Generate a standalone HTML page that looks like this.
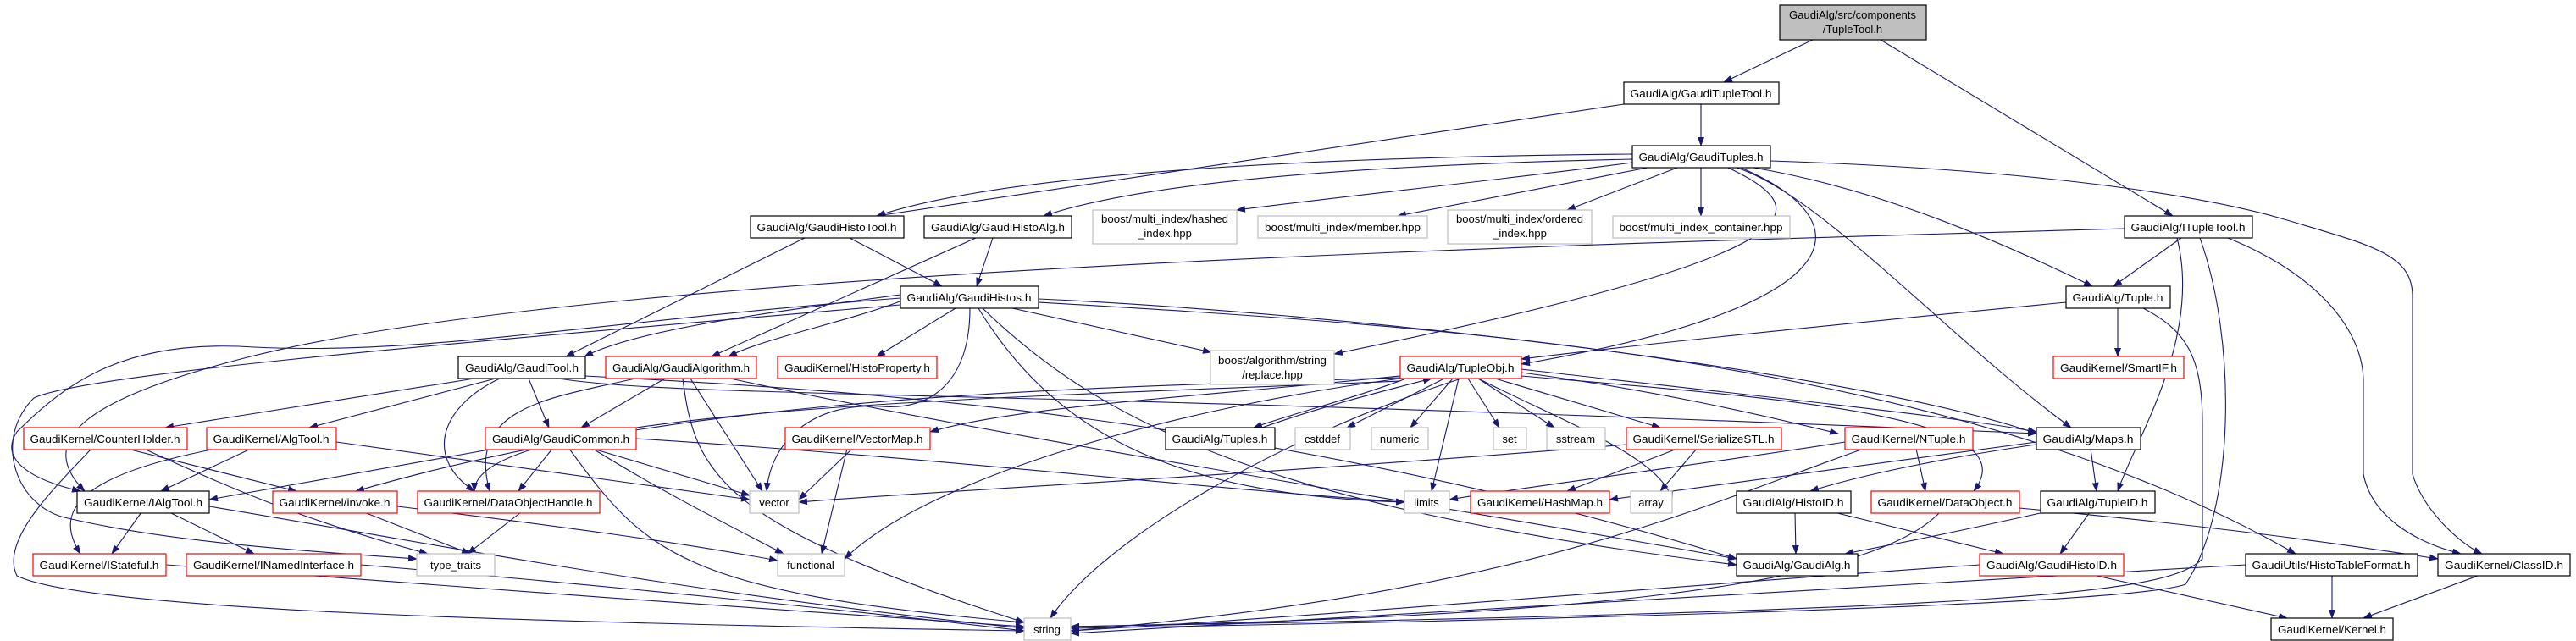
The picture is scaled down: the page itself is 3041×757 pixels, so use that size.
<!DOCTYPE html>
<html><head><meta charset="utf-8"><style>
html,body{margin:0;padding:0;background:#fff}
svg{display:block}
text{font-family:"Liberation Sans",sans-serif;font-size:13px;fill:#000}
.b{fill:#fff;stroke:#000;stroke-width:1.2}
.r{fill:#fff;stroke:#f00;stroke-width:1.2}
.g{fill:#fff;stroke:#bfbfbf;stroke-width:1.2}
.e path{fill:none;stroke:#191970;stroke-width:1.1;marker-end:url(#a)}
</style></head><body>
<svg width="3041" height="757" viewBox="0 0 3041 757" xmlns="http://www.w3.org/2000/svg">
<defs><marker id="a" markerWidth="11" markerHeight="8" refX="10" refY="4" orient="auto" markerUnits="userSpaceOnUse"><path d="M0,0 L11,4 L0,8z" fill="#191970" stroke="none"/></marker></defs>
<g class="e">
<path d="M2140,47 L2035,97"/>
<path d="M2220,47 L2565,255"/>
<path d="M1917,123 L1035,255"/>
<path d="M2008,123 L2008,172"/>
<path d="M1927,182 C1600,185 1200,200 1035,255"/>
<path d="M1927,188 C1600,195 1350,215 1232,255"/>
<path d="M1927,192 C1750,215 1600,230 1460,248"/>
<path d="M1945,198 L1650,255"/>
<path d="M1980,198 L1850,248"/>
<path d="M2008,198 L2008,255"/>
<path d="M2070,198 C2200,220 2330,270 2470,338"/>
<path d="M2050,198 C2150,230 2300,400 2445,505"/>
<path d="M2055,198 C2200,260 2200,360 1796,430"/>
<path d="M2040,198 C2150,250 2150,300 1575,418"/>
<path d="M2090,190 C2400,200 2600,230 2700,260 C2800,290 2848,300 2848,350 L2848,560 C2860,600 2900,640 2930,654"/>
<path d="M950,281 L668,421"/>
<path d="M1003,281 L1112,338"/>
<path d="M1172,281 L1153,338"/>
<path d="M1152,281 L840,421"/>
<path d="M2508,270 C1800,290 700,320 300,420 C100,470 40,520 100,580"/>
<path d="M2575,281 L2495,338"/>
<path d="M2570,281 C2600,400 2520,520 2500,580"/>
<path d="M2597,281 C2640,400 2640,600 2580,690 C2500,720 1500,738 1264,742"/>
<path d="M2630,281 C2750,330 2790,400 2790,450 L2790,560 C2800,610 2850,640 2905,654"/>
<path d="M1063,348 C900,370 750,390 690,421"/>
<path d="M1065,355 C1000,380 900,400 860,421"/>
<path d="M1128,364 L1035,421"/>
<path d="M1195,364 L1430,416"/>
<path d="M1226,353 C1600,370 2200,440 2404,512"/>
<path d="M1226,357 C1700,385 2300,420 2710,654"/>
<path d="M1155,364 C1250,520 1400,585 1658,593"/>
<path d="M1145,364 C1145,450 1100,485 1040,480 C960,475 910,520 905,580"/>
<path d="M1063,360 C600,400 100,440 40,470 C-10,520 20,600 80,612 C200,640 350,650 492,660"/>
<path d="M1063,352 C700,380 500,420 300,410 C150,400 80,450 20,510 C0,540 30,565 95,580"/>
<path d="M1160,364 C1300,500 1500,600 2050,667"/>
<path d="M2439,357 C2200,380 1950,405 1796,424"/>
<path d="M2500,364 L2500,421"/>
<path d="M2530,364 C2580,390 2600,420 2600,500 L2600,660 C2560,700 2400,720 1264,740"/>
<path d="M560,447 L195,505"/>
<path d="M585,447 L365,505"/>
<path d="M624,447 L648,505"/>
<path d="M590,447 C520,480 500,540 560,580"/>
<path d="M660,447 C800,470 1200,460 2404,512"/>
<path d="M691,444 C1000,460 1500,490 2050,660"/>
<path d="M785,447 L686,505"/>
<path d="M750,447 C650,470 550,480 578,580"/>
<path d="M815,447 L900,580"/>
<path d="M806,447 C820,560 850,620 1209,735"/>
<path d="M862,447 C1200,520 1600,580 2050,660"/>
<path d="M150,530 L350,580"/>
<path d="M170,530 C300,590 380,620 505,654"/>
<path d="M108,530 C60,580 0,640 20,680 C100,720 600,735 1209,745"/>
<path d="M296,530 L190,580"/>
<path d="M255,530 C100,560 60,600 95,654"/>
<path d="M397,522 L885,590"/>
<path d="M583,530 L247,590"/>
<path d="M652,530 L612,580"/>
<path d="M700,530 L885,585"/>
<path d="M700,530 C780,580 860,620 925,654"/>
<path d="M672,530 C760,650 800,700 1209,735"/>
<path d="M751,518 C1100,540 1400,575 1658,593"/>
<path d="M1006,530 L943,590"/>
<path d="M1000,530 L970,654"/>
<path d="M1660,447 C1600,470 1520,490 1480,505"/>
<path d="M1490,505 C1560,480 1640,460 1690,447"/>
<path d="M1705,447 L1590,505"/>
<path d="M1715,447 L1665,505"/>
<path d="M1733,447 L1770,505"/>
<path d="M1745,447 L1835,505"/>
<path d="M1765,447 L1960,505"/>
<path d="M1796,440 C1950,460 2080,490 2170,512"/>
<path d="M1796,436 C2000,460 2300,490 2404,510"/>
<path d="M1722,447 L1690,580"/>
<path d="M1725,447 C1500,520 1300,640 1240,730"/>
<path d="M1653,447 C1400,480 1100,560 997,660"/>
<path d="M1653,444 C1400,470 1200,480 1098,510"/>
<path d="M1653,446 C1200,460 800,470 420,580"/>
<path d="M1796,444 C2100,470 2400,490 2330,580"/>
<path d="M1745,447 C1850,500 1960,540 1974,590"/>
<path d="M1653,450 C1200,470 560,480 560,580"/>
<path d="M1920,525 C1500,560 1100,580 943,593"/>
<path d="M1980,530 L1850,580"/>
<path d="M2003,530 L1960,580"/>
<path d="M2262,530 L2273,580"/>
<path d="M2178,522 C2000,550 1800,575 1711,590"/>
<path d="M2200,530 C2000,600 1800,700 1264,745"/>
<path d="M2410,524 C2300,540 2200,560 2137,580"/>
<path d="M2468,530 L2475,580"/>
<path d="M2404,522 C2200,550 2000,575 1900,590"/>
<path d="M167,605 L132,654"/>
<path d="M200,605 L300,654"/>
<path d="M247,598 C500,640 800,700 1209,742"/>
<path d="M430,605 L555,654"/>
<path d="M469,598 C650,620 800,640 918,662"/>
<path d="M615,605 L552,654"/>
<path d="M2119,605 L2120,654"/>
<path d="M2165,605 L2365,654"/>
<path d="M2384,600 C2600,620 2750,640 2878,660"/>
<path d="M2290,605 C2200,700 1800,730 1264,740"/>
<path d="M2413,605 C2300,630 2250,640 2178,654"/>
<path d="M2467,605 L2432,654"/>
<path d="M2475,680 L2700,730"/>
<path d="M2337,667 C2000,690 1600,725 1264,745"/>
<path d="M2753,680 L2753,730"/>
<path d="M2651,667 C2300,690 1800,720 1264,748"/>
<path d="M2925,680 L2790,730"/>
<path d="M196,667 C500,690 900,720 1209,740"/>
<path d="M426,667 C700,690 1000,720 1209,745"/>
</g>
<g>
<rect x="2101" y="6" width="173" height="41" fill="#bfbfbf" stroke="#000" stroke-width="1.2"/>
<text x="2187" y="22" text-anchor="middle" textLength="150" lengthAdjust="spacingAndGlyphs">GaudiAlg/src/components</text>
<text x="2187" y="39" text-anchor="middle">/TupleTool.h</text>

<rect class="b" x="1917" y="97" width="183" height="26"/><text x="2008" y="115" text-anchor="middle" textLength="167" lengthAdjust="spacingAndGlyphs">GaudiAlg/GaudiTupleTool.h</text>
<rect class="b" x="1927" y="172" width="163" height="26"/><text x="2008" y="190" text-anchor="middle" textLength="147" lengthAdjust="spacingAndGlyphs">GaudiAlg/GaudiTuples.h</text>

<rect class="b" x="886" y="255" width="181" height="26"/><text x="976" y="273" text-anchor="middle" textLength="165" lengthAdjust="spacingAndGlyphs">GaudiAlg/GaudiHistoTool.h</text>
<rect class="b" x="1091" y="255" width="174" height="26"/><text x="1178" y="273" text-anchor="middle" textLength="158" lengthAdjust="spacingAndGlyphs">GaudiAlg/GaudiHistoAlg.h</text>
<rect class="g" x="1290" y="248" width="170" height="40"/><text x="1375" y="263" text-anchor="middle" textLength="150" lengthAdjust="spacingAndGlyphs">boost/multi_index/hashed</text><text x="1375" y="280" text-anchor="middle">_index.hpp</text>
<rect class="g" x="1485" y="255" width="200" height="26"/><text x="1585" y="273" text-anchor="middle" textLength="184" lengthAdjust="spacingAndGlyphs">boost/multi_index/member.hpp</text>
<rect class="g" x="1709" y="248" width="170" height="40"/><text x="1794" y="263" text-anchor="middle" textLength="150" lengthAdjust="spacingAndGlyphs">boost/multi_index/ordered</text><text x="1794" y="280" text-anchor="middle">_index.hpp</text>
<rect class="g" x="1904" y="255" width="209" height="26"/><text x="2008" y="273" text-anchor="middle" textLength="193" lengthAdjust="spacingAndGlyphs">boost/multi_index_container.hpp</text>
<rect class="b" x="2508" y="255" width="151" height="26"/><text x="2583" y="273" text-anchor="middle" textLength="135" lengthAdjust="spacingAndGlyphs">GaudiAlg/ITupleTool.h</text>

<rect class="b" x="1063" y="338" width="163" height="26"/><text x="1144" y="356" text-anchor="middle" textLength="147" lengthAdjust="spacingAndGlyphs">GaudiAlg/GaudiHistos.h</text>
<rect class="b" x="2439" y="338" width="123" height="26"/><text x="2500" y="356" text-anchor="middle" textLength="107" lengthAdjust="spacingAndGlyphs">GaudiAlg/Tuple.h</text>

<rect class="b" x="541" y="421" width="150" height="26"/><text x="616" y="439" text-anchor="middle" textLength="134" lengthAdjust="spacingAndGlyphs">GaudiAlg/GaudiTool.h</text>
<rect class="r" x="715" y="421" width="178" height="26"/><text x="804" y="439" text-anchor="middle" textLength="162" lengthAdjust="spacingAndGlyphs">GaudiAlg/GaudiAlgorithm.h</text>
<rect class="r" x="918" y="421" width="188" height="26"/><text x="1012" y="439" text-anchor="middle" textLength="172" lengthAdjust="spacingAndGlyphs">GaudiKernel/HistoProperty.h</text>
<rect class="g" x="1429" y="414" width="146" height="40"/><text x="1502" y="430" text-anchor="middle" textLength="128" lengthAdjust="spacingAndGlyphs">boost/algorithm/string</text><text x="1502" y="447" text-anchor="middle">/replace.hpp</text>
<rect class="r" x="1653" y="421" width="143" height="26"/><text x="1724" y="439" text-anchor="middle" textLength="127" lengthAdjust="spacingAndGlyphs">GaudiAlg/TupleObj.h</text>
<rect class="r" x="2424" y="421" width="154" height="26"/><text x="2501" y="439" text-anchor="middle" textLength="138" lengthAdjust="spacingAndGlyphs">GaudiKernel/SmartIF.h</text>

<rect class="r" x="28" y="505" width="193" height="26"/><text x="124" y="523" text-anchor="middle" textLength="177" lengthAdjust="spacingAndGlyphs">GaudiKernel/CounterHolder.h</text>
<rect class="r" x="244" y="505" width="153" height="26"/><text x="320" y="523" text-anchor="middle" textLength="137" lengthAdjust="spacingAndGlyphs">GaudiKernel/AlgTool.h</text>
<rect class="r" x="573" y="505" width="178" height="26"/><text x="662" y="523" text-anchor="middle" textLength="162" lengthAdjust="spacingAndGlyphs">GaudiAlg/GaudiCommon.h</text>
<rect class="r" x="927" y="505" width="171" height="26"/><text x="1012" y="523" text-anchor="middle" textLength="155" lengthAdjust="spacingAndGlyphs">GaudiKernel/VectorMap.h</text>
<rect class="b" x="1376" y="505" width="129" height="26"/><text x="1440" y="523" text-anchor="middle" textLength="113" lengthAdjust="spacingAndGlyphs">GaudiAlg/Tuples.h</text>
<rect class="g" x="1529" y="505" width="65" height="26"/><text x="1561" y="523" text-anchor="middle">cstddef</text>
<rect class="g" x="1619" y="505" width="67" height="26"/><text x="1652" y="523" text-anchor="middle">numeric</text>
<rect class="g" x="1763" y="505" width="39" height="26"/><text x="1782" y="523" text-anchor="middle">set</text>
<rect class="g" x="1826" y="505" width="69" height="26"/><text x="1860" y="523" text-anchor="middle">sstream</text>
<rect class="r" x="1920" y="505" width="183" height="26"/><text x="2011" y="523" text-anchor="middle" textLength="167" lengthAdjust="spacingAndGlyphs">GaudiKernel/SerializeSTL.h</text>
<rect class="r" x="2178" y="505" width="151" height="26"/><text x="2253" y="523" text-anchor="middle" textLength="135" lengthAdjust="spacingAndGlyphs">GaudiKernel/NTuple.h</text>
<rect class="b" x="2404" y="505" width="123" height="26"/><text x="2465" y="523" text-anchor="middle" textLength="107" lengthAdjust="spacingAndGlyphs">GaudiAlg/Maps.h</text>

<rect class="b" x="91" y="580" width="156" height="26"/><text x="169" y="598" text-anchor="middle" textLength="140" lengthAdjust="spacingAndGlyphs">GaudiKernel/IAlgTool.h</text>
<rect class="r" x="322" y="580" width="147" height="26"/><text x="395" y="598" text-anchor="middle" textLength="131" lengthAdjust="spacingAndGlyphs">GaudiKernel/invoke.h</text>
<rect class="r" x="493" y="580" width="215" height="26"/><text x="600" y="598" text-anchor="middle" textLength="199" lengthAdjust="spacingAndGlyphs">GaudiKernel/DataObjectHandle.h</text>
<rect class="g" x="885" y="580" width="58" height="26"/><text x="914" y="598" text-anchor="middle">vector</text>
<rect class="g" x="1658" y="580" width="53" height="26"/><text x="1684" y="598" text-anchor="middle">limits</text>
<rect class="r" x="1736" y="580" width="164" height="26"/><text x="1818" y="598" text-anchor="middle" textLength="148" lengthAdjust="spacingAndGlyphs">GaudiKernel/HashMap.h</text>
<rect class="g" x="1925" y="580" width="49" height="26"/><text x="1949" y="598" text-anchor="middle">array</text>
<rect class="b" x="2050" y="580" width="135" height="26"/><text x="2117" y="598" text-anchor="middle" textLength="119" lengthAdjust="spacingAndGlyphs">GaudiAlg/HistoID.h</text>
<rect class="r" x="2209" y="580" width="175" height="26"/><text x="2296" y="598" text-anchor="middle" textLength="159" lengthAdjust="spacingAndGlyphs">GaudiKernel/DataObject.h</text>
<rect class="b" x="2409" y="580" width="135" height="26"/><text x="2476" y="598" text-anchor="middle" textLength="119" lengthAdjust="spacingAndGlyphs">GaudiAlg/TupleID.h</text>

<rect class="r" x="39" y="654" width="157" height="26"/><text x="117" y="672" text-anchor="middle" textLength="141" lengthAdjust="spacingAndGlyphs">GaudiKernel/IStateful.h</text>
<rect class="r" x="220" y="654" width="206" height="26"/><text x="323" y="672" text-anchor="middle" textLength="190" lengthAdjust="spacingAndGlyphs">GaudiKernel/INamedInterface.h</text>
<rect class="g" x="492" y="654" width="92" height="26"/><text x="538" y="672" text-anchor="middle">type_traits</text>
<rect class="g" x="918" y="654" width="79" height="26"/><text x="957" y="672" text-anchor="middle">functional</text>
<rect class="b" x="2050" y="654" width="143" height="26"/><text x="2121" y="672" text-anchor="middle" textLength="127" lengthAdjust="spacingAndGlyphs">GaudiAlg/GaudiAlg.h</text>
<rect class="r" x="2337" y="654" width="170" height="26"/><text x="2422" y="672" text-anchor="middle" textLength="154" lengthAdjust="spacingAndGlyphs">GaudiAlg/GaudiHistoID.h</text>
<rect class="b" x="2651" y="654" width="203" height="26"/><text x="2752" y="672" text-anchor="middle" textLength="187" lengthAdjust="spacingAndGlyphs">GaudiUtils/HistoTableFormat.h</text>
<rect class="b" x="2878" y="654" width="156" height="26"/><text x="2956" y="672" text-anchor="middle" textLength="140" lengthAdjust="spacingAndGlyphs">GaudiKernel/ClassID.h</text>

<rect class="g" x="1209" y="730" width="55" height="26"/><text x="1236" y="748" text-anchor="middle">string</text>
<rect class="b" x="2681" y="730" width="144" height="26"/><text x="2753" y="748" text-anchor="middle" textLength="128" lengthAdjust="spacingAndGlyphs">GaudiKernel/Kernel.h</text>
</g>
</svg>
</body></html>
